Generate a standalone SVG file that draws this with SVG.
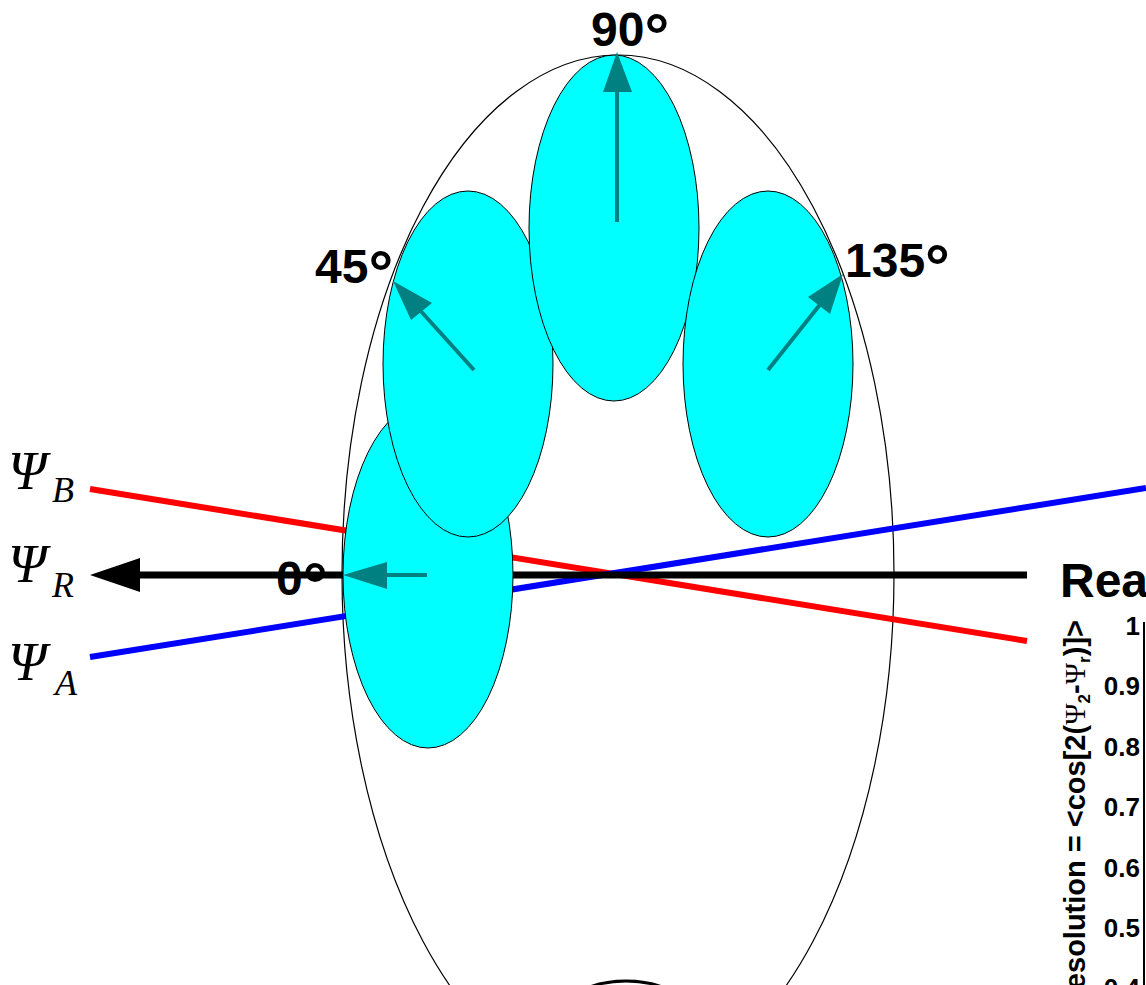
<svg xmlns="http://www.w3.org/2000/svg" width="1146" height="985" viewBox="0 0 1146 985">
<defs>
<style>
.deg{font-family:"Liberation Sans",Arial,sans-serif;font-weight:bold;font-size:48px;fill:#000}
.ring{font-size:62px}
.psi{font-family:"Liberation Serif","Times New Roman",serif;font-style:italic;fill:#000}
.tick{font-family:"Liberation Sans",Arial,sans-serif;font-weight:bold;font-size:26px;fill:#000;text-anchor:end}
.lobe{fill:#00FFFF;stroke:#000;stroke-width:1}
.teal{stroke:#008080;stroke-width:4;fill:none}
.tealhead{fill:#008080}
</style>
</defs>
<rect width="1146" height="985" fill="#fff"/>

<g id="outer-ellipse">
<ellipse cx="618" cy="574" rx="276" ry="519" fill="none" stroke="#000" stroke-width="1.2"/>
</g>

<g id="bottom-arc">
<ellipse cx="626" cy="1011" rx="60" ry="30" fill="none" stroke="#000" stroke-width="3"/>
</g>

<g id="connectors">
<line x1="90" y1="489" x2="1027" y2="641" stroke="#FF0000" stroke-width="6"/>
<line x1="90" y1="657" x2="1146" y2="488" stroke="#0000FF" stroke-width="6"/>
<line x1="135" y1="575" x2="1027" y2="575" stroke="#000" stroke-width="7"/>
<polygon points="90,575 140,558 140,592" fill="#000"/>
</g>

<g id="lobe-0">
<ellipse class="lobe" cx="428" cy="575" rx="85" ry="173"/>
<line class="teal" x1="427" y1="575" x2="380" y2="575"/>
<polygon class="tealhead" points="343,575 387,562 387,589"/>
</g>
<g id="lobe-45">
<ellipse class="lobe" cx="468" cy="364" rx="85" ry="173"/>
<line class="teal" x1="474" y1="370" x2="418" y2="308"/>
<polygon class="tealhead" points="393,281 432,303 411,320"/>
</g>
<g id="lobe-90">
<ellipse class="lobe" cx="614" cy="228" rx="85" ry="173"/>
<line class="teal" x1="617" y1="222" x2="617" y2="88"/>
<polygon class="tealhead" points="617,52 603,92 632,92"/>
</g>
<g id="lobe-135">
<ellipse class="lobe" cx="768" cy="364" rx="85" ry="173"/>
<line class="teal" x1="768" y1="370" x2="822" y2="302"/>
<polygon class="tealhead" points="843,274 808,297 830,314"/>
</g>

<g id="labels">
<text class="deg" x="591" y="46">90<tspan class="ring" dy="11">°</tspan></text>
<text class="deg" x="315" y="283">45<tspan class="ring" dy="11">°</tspan></text>
<text class="deg" x="845" y="277">135<tspan class="ring" dy="11">°</tspan></text>
<text class="deg" x="276" y="595">0<tspan class="ring" dy="11">°</tspan></text>
<text class="deg" x="1060" y="597">Rea</text>
</g>

<g id="psi-labels">
<text class="psi" x="8" y="489" font-size="55">Ψ</text>
<text class="psi" x="52" y="502" font-size="36">B</text>
<text class="psi" x="8" y="582" font-size="55">Ψ</text>
<text class="psi" x="52" y="597" font-size="36">R</text>
<text class="psi" x="8" y="680" font-size="55">Ψ</text>
<text class="psi" x="55" y="695" font-size="36">A</text>
</g>

<g id="plot">
<line x1="1144" y1="622" x2="1144" y2="985" stroke="#000" stroke-width="2"/>
<text class="tick" x="1140" y="635">1</text>
<text class="tick" x="1140" y="695">0.9</text>
<text class="tick" x="1140" y="756">0.8</text>
<text class="tick" x="1140" y="816">0.7</text>
<text class="tick" x="1140" y="877">0.6</text>
<text class="tick" x="1140" y="937">0.5</text>
<text class="tick" x="1140" y="997">0.4</text>
<text transform="translate(1085,620) rotate(-90)" text-anchor="end" font-family="Liberation Sans,Arial,sans-serif" font-weight="bold" font-size="29" fill="#000">esolution = &lt;cos[2(<tspan font-family="Liberation Serif,Times New Roman,serif" font-weight="normal">Ψ</tspan><tspan font-size="17" dy="5">2</tspan><tspan dy="-5">-</tspan><tspan font-family="Liberation Serif,Times New Roman,serif" font-weight="normal">Ψ</tspan><tspan font-size="17" dy="5">r</tspan><tspan dy="-5">)]&gt;</tspan></text>
</g>
</svg>
